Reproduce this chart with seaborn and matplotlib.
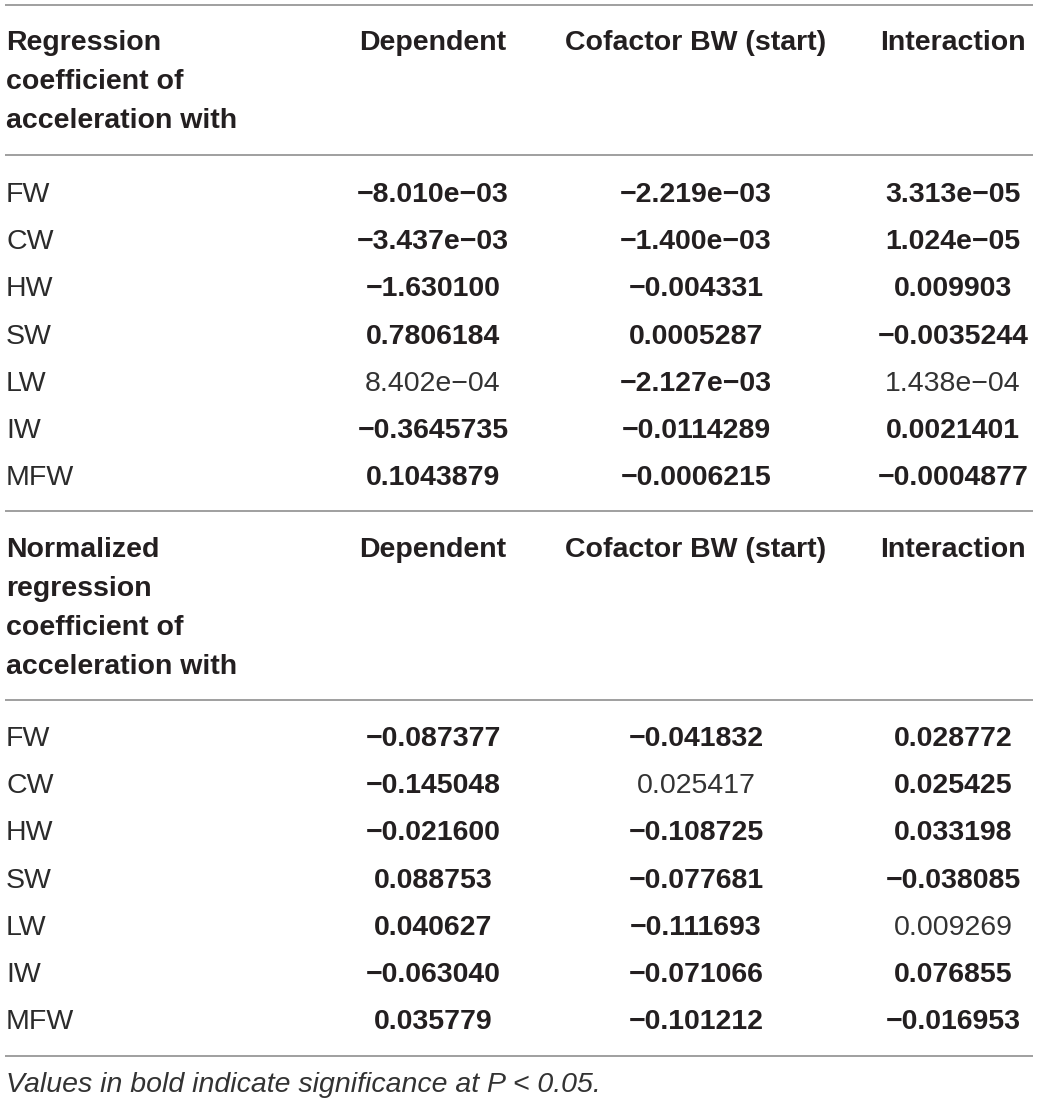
import matplotlib
matplotlib.use("Agg")
import matplotlib.pyplot as plt
import seaborn as sns

# theme first, font list after it
sns.set_theme(style="white")
plt.rcParams['font.family'] = ['Liberation Sans', 'DejaVu Sans']

# ---- table content ----
row_labels = ['FW', 'CW', 'HW', 'SW', 'LW', 'IW', 'MFW']
col_headers = ['Dependent', 'Cofactor BW (start)', 'Interaction']
header_top = ['Regression', 'coefficient of', 'acceleration with']
header_bottom = ['Normalized', 'regression', 'coefficient of', 'acceleration with']

raw_dep = ['−8.010e−03', '−3.437e−03', '−1.630100', '0.7806184',
           '8.402e−04', '−0.3645735', '0.1043879']
raw_cof = ['−2.219e−03', '−1.400e−03', '−0.004331', '0.0005287',
           '−2.127e−03', '−0.0114289', '−0.0006215']
raw_int = ['3.313e−05', '1.024e−05', '0.009903', '−0.0035244',
           '1.438e−04', '0.0021401', '−0.0004877']
raw_bold = [[1, 1, 1], [1, 1, 1], [1, 1, 1], [1, 1, 1],
            [0, 1, 0], [1, 1, 1], [1, 1, 1]]

norm_dep = ['−0.087377', '−0.145048', '−0.021600', '0.088753',
            '0.040627', '−0.063040', '0.035779']
norm_cof = ['−0.041832', '0.025417', '−0.108725', '−0.077681',
            '−0.111693', '−0.071066', '−0.101212']
norm_int = ['0.028772', '0.025425', '0.033198', '−0.038085',
            '0.009269', '0.076855', '−0.016953']
norm_bold = [[1, 1, 1], [1, 0, 1], [1, 1, 1], [1, 1, 1],
             [1, 1, 0], [1, 1, 1], [1, 1, 1]]

footnote = 'Values in bold indicate significance at P < 0.05.'

# ---- layout (pixel coordinates, y going down) ----
W, H = 1039, 1104
TXT = '#231f20'
RULE = '#8f8f8f'
FS = 20.5
col_x = [433, 696, 953]
left_x = 6
row_step = 47.2
head_step = 39

fig = plt.figure(figsize=(W / 100, H / 100), dpi=100)
ax = fig.add_axes([0, 0, 1, 1])
ax.set_xlim(0, W)
ax.set_ylim(H, 0)
ax.axis('off')


def draw_block(head_lines, head_base, first_row_base, cols, bold):
    for i, line in enumerate(head_lines):
        ax.text(left_x, head_base + i * head_step, line, ha='left', va='baseline',
                fontsize=FS, fontweight='bold', color=TXT)
    for x, h in zip(col_x, col_headers):
        ax.text(x, head_base, h, ha='center', va='baseline',
                fontsize=FS, fontweight='bold', color=TXT)
    for r, lab in enumerate(row_labels):
        y = first_row_base + r * row_step
        ax.text(left_x, y, lab, ha='left', va='baseline', fontsize=FS, color='#2b2b2b')
        for c, x in enumerate(col_x):
            ax.text(x, y, cols[c][r], ha='center', va='baseline', fontsize=FS,
                    fontweight='bold' if bold[r][c] else 'normal',
                    color=TXT if bold[r][c] else '#333333')


draw_block(header_top, 50, 202, [raw_dep, raw_cof, raw_int], raw_bold)
draw_block(header_bottom, 557, 746, [norm_dep, norm_cof, norm_int], norm_bold)

# horizontal rules
for y in [5, 155, 511, 700, 1056]:
    ax.hlines(y, 5, 1033, color=RULE, lw=1.2)

ax.text(left_x, 1092, footnote, ha='left', va='baseline', fontsize=FS,
        fontstyle='italic', color='#333333')

fig.savefig('out.png', dpi=100, facecolor='white')
